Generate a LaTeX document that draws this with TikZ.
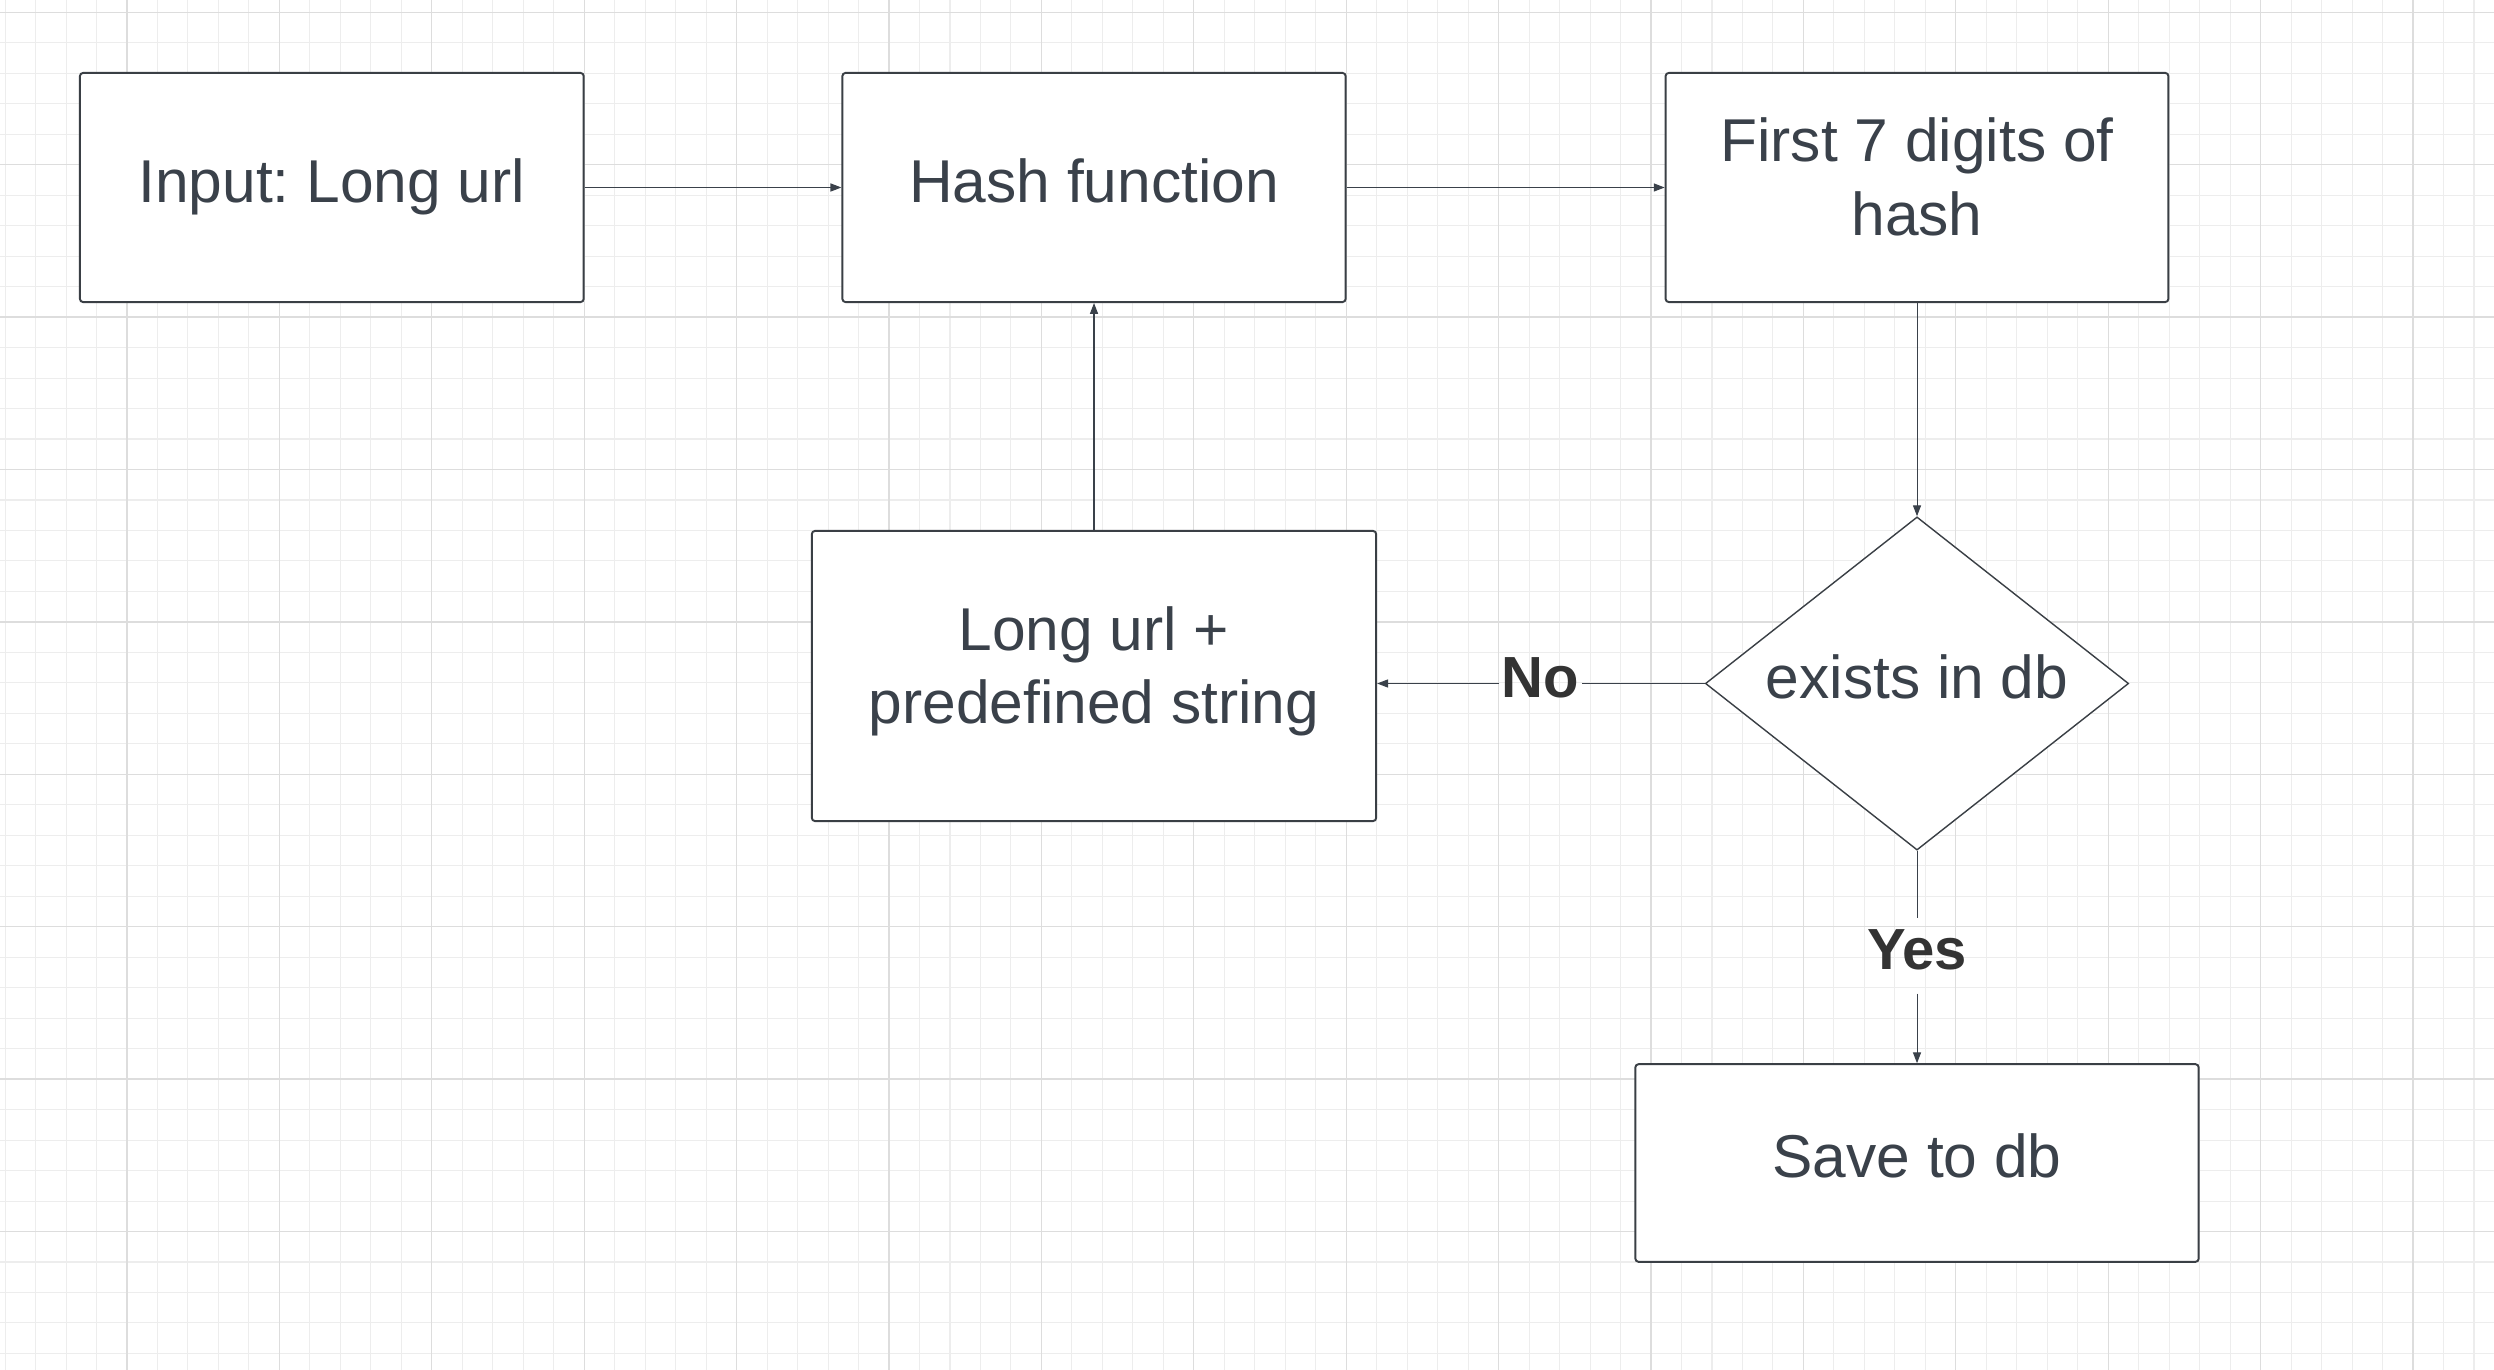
\documentclass[tikz,border=0pt]{standalone}
\usepackage{fontspec}
\setmainfont{Liberation Sans}
\usetikzlibrary{shapes.geometric,arrows.meta}
\definecolor{textgray}{HTML}{3A414A}
\definecolor{edgegray}{HTML}{3A3F45}
\definecolor{labelgray}{HTML}{333333}
\definecolor{gridminor}{HTML}{EDEDED}
\definecolor{gridmajor}{HTML}{DDDDDD}
\frenchspacing
\begin{document}
\begin{tikzpicture}[
    x=0.01cm, y=-0.01cm,
    box/.style={draw=edgegray, line width=0.55pt, fill=white, rounded corners=0.9pt,
        inner sep=0pt, align=center, text=textgray,
        font=\fontsize{17.2}{20.8}\selectfont,
        execute at begin node=\strut, execute at end node=\strut},
    decision/.style={diamond, draw=edgegray, line width=0.4pt, fill=white,
        inner sep=0pt, aspect=1.27, minimum width=4.23cm, minimum height=3.33cm,
        text=textgray, font=\fontsize{17.2}{20.8}\selectfont,
        execute at begin node=\strut},
    answer/.style={text=labelgray, inner sep=0.6pt,
        font=\bfseries\fontsize{16.5}{19.8}\selectfont,
        execute at begin node=\strut},
    line/.style={draw=textgray, line width=0.3pt},
    conn/.style={line, -{Triangle[length=3.1pt,width=2.3pt]}},
    gridthin/.style={draw=gridminor, line width=0.3pt},
    gridthick/.style={draw=gridmajor, line width=0.35pt}]
    \useasboundingbox[fill=white] (0,0) rectangle (2494,1370);
    \foreach \i in {0,...,81}
        \draw[gridthin] ({5.08+30.48*\i},0) -- ({5.08+30.48*\i},1370);
    \foreach \j in {0,...,44}
        \draw[gridthin] (0,{12.3+30.48*\j}) -- (2494,{12.3+30.48*\j});
    \foreach \i in {0,...,15}
        \draw[gridthick] ({127+152.4*\i},0) -- ({127+152.4*\i},1370);
    \foreach \j in {0,...,8}
        \draw[gridthick] (0,{12.3+152.4*\j}) -- (2494,{12.3+152.4*\j});

    \node [box, minimum width=5.035cm, minimum height=2.29cm] (input) at (331.8,187.5) {Input: Long url};
    \node [box, minimum width=5.03cm, minimum height=2.29cm] (hash) at (1094,187.5) {Hash function};
    \node [box, minimum width=5.025cm, minimum height=2.29cm] (first) at (1917,187.5) {First 7 digits of\\hash};
    \node [decision] (check) at (1917,683.5) {exists in db};
    \node [box, minimum width=5.64cm, minimum height=2.90cm] (concat) at (1094,676) {Long url +\\predefined string};
    \node [box, minimum width=5.63cm, minimum height=1.975cm] (save) at (1917,1163) {Save to db};
    \node [answer] (no) at (1540.5,683.5) {No};
    \node [answer] (yes) at (1917,956) {Yes};

    \draw[conn] (input) -- (hash);
    \draw[conn] (hash) -- (first);
    \draw[conn] (first) -- (check);
    \draw[conn] (concat) -- (hash);
    \draw[line] (check) -- (no);
    \draw[conn] (no) -- (check.west -| concat.east);
    \draw[line] (check) -- (yes);
    \draw[conn] (yes) -- (save);
\end{tikzpicture}
\end{document}
